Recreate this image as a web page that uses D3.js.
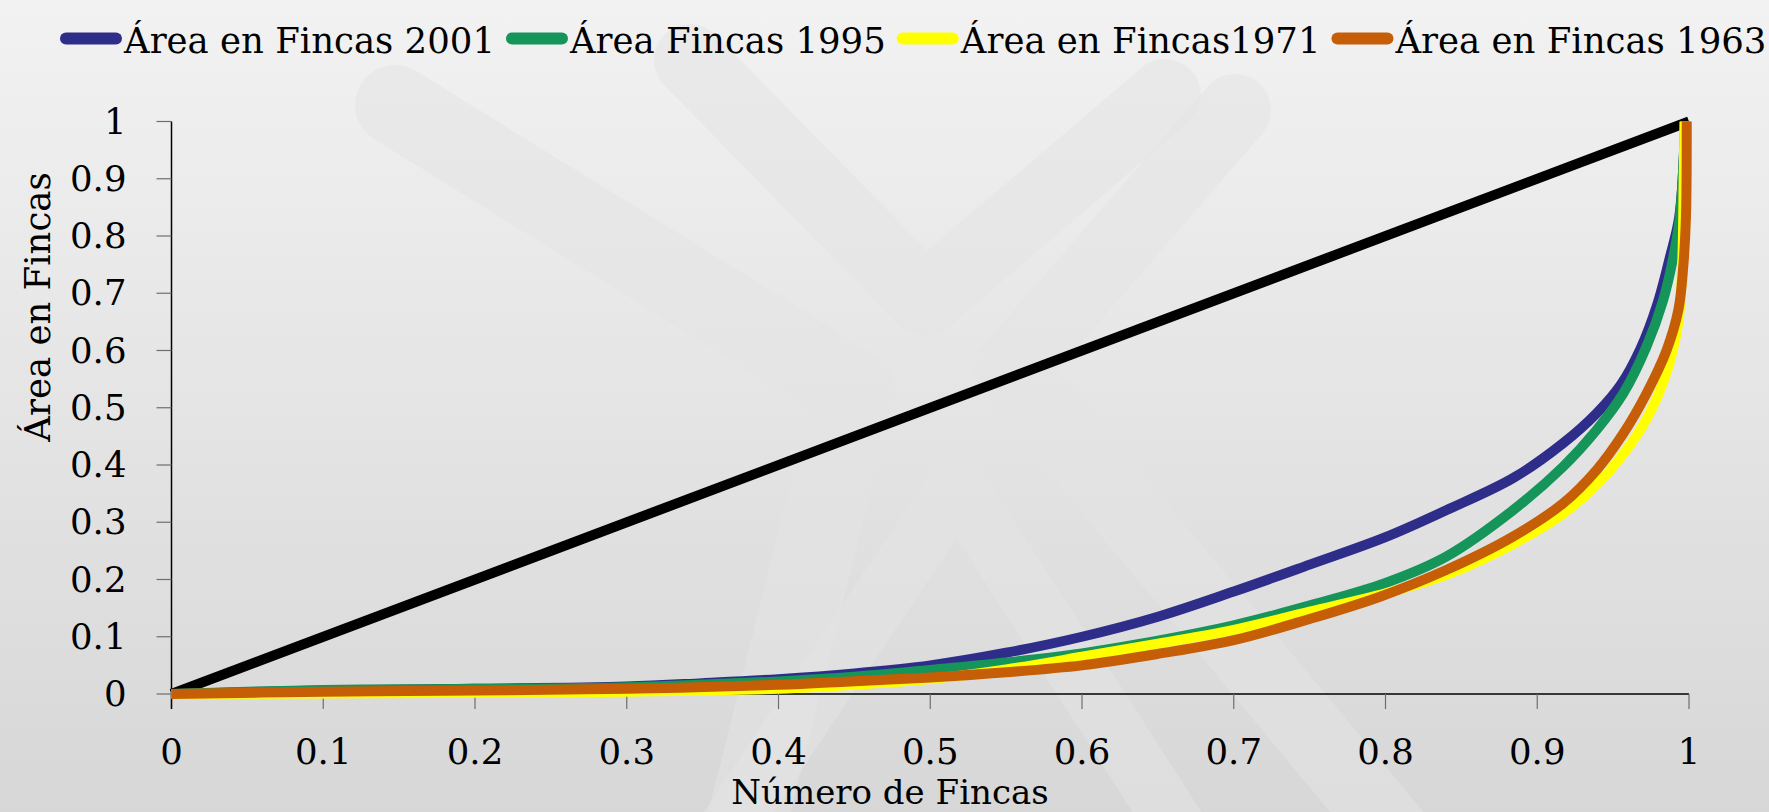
<!DOCTYPE html>
<html>
<head>
<meta charset="utf-8">
<script src="https://cdn.jsdelivr.net/npm/d3@7"></script>
<style>
  html, body { margin: 0; padding: 0; background: #e6e6e6; }
  svg { display: block; }
  text { font-family: "DejaVu Serif", "Liberation Serif", serif; fill: #000; }
</style>
</head>
<body>
<svg id="chart" width="1769" height="812"></svg>
<script>
// ---------------- DATA ----------------
const seriesNames = ["Área en Fincas 2001", "Área Fincas 1995", "Área en Fincas1971", "Área en Fincas 1963"];
const seriesColors = ["#2e2d8a", "#15955a", "#ffff00", "#c55e07"];

const x2001 = [0, 0.1, 0.2, 0.3, 0.35, 0.4, 0.45, 0.5, 0.55, 0.6, 0.65, 0.7, 0.75, 0.8, 0.84, 0.884, 0.917, 0.939, 0.955, 0.968, 0.979, 0.9875, 0.9936, 0.9975];
const y2001 = [0, 0.006, 0.009, 0.013, 0.019, 0.026, 0.036, 0.05, 0.072, 0.1, 0.135, 0.179, 0.226, 0.274, 0.321, 0.377, 0.438, 0.49, 0.54, 0.603, 0.68, 0.764, 0.834, 1];

const x1995 = [0, 0.1, 0.2, 0.3, 0.4, 0.45, 0.5, 0.55, 0.6, 0.635, 0.7, 0.752, 0.8, 0.84, 0.884, 0.917, 0.939, 0.9567, 0.972, 0.983, 0.9897, 0.994, 0.9975];
const y1995 = [0, 0.007, 0.009, 0.012, 0.022, 0.03, 0.042, 0.055, 0.071, 0.086, 0.12, 0.156, 0.194, 0.24, 0.321, 0.397, 0.461, 0.525, 0.607, 0.688, 0.764, 0.834, 1];

const x1971 = [0, 0.1, 0.2, 0.3, 0.4, 0.45, 0.5, 0.55, 0.6, 0.65, 0.7, 0.75, 0.8, 0.84, 0.884, 0.917, 0.939, 0.957, 0.972, 0.985, 0.993, 0.9955, 0.9965, 0.997];
const y1971 = [0, 0.001, 0.002, 0.004, 0.009, 0.016, 0.026, 0.043, 0.065, 0.088, 0.112, 0.144, 0.176, 0.208, 0.262, 0.315, 0.365, 0.42, 0.48, 0.56, 0.65, 0.75, 0.9, 1];

const x1963 = [0, 0.1, 0.2, 0.3, 0.4, 0.447, 0.5, 0.55, 0.6, 0.65, 0.7, 0.75, 0.7964, 0.84, 0.884, 0.917, 0.939, 0.9567, 0.972, 0.9853, 0.993, 0.9962, 0.998, 0.9985];
const y1963 = [0, 0.004, 0.006, 0.009, 0.016, 0.022, 0.029, 0.038, 0.05, 0.07, 0.094, 0.131, 0.17, 0.2166, 0.275, 0.333, 0.391, 0.455, 0.525, 0.601, 0.671, 0.746, 0.834, 1];

const xEquality = [0, 1];
const yEquality = [0, 1];

const xTickValues = [0, 0.1, 0.2, 0.3, 0.4, 0.5, 0.6, 0.7, 0.8, 0.9, 1];
const yTickValues = [0, 0.1, 0.2, 0.3, 0.4, 0.5, 0.6, 0.7, 0.8, 0.9, 1];
const xTitle = "Número de Fincas";
const yTitle = "Área en Fincas";

// ---------------- LAYOUT ----------------
const W = 1769, H = 812;
const svg = d3.select("#chart");
const FS = 35.5;

const x = d3.scaleLinear().domain([0, 1]).range([171.5, 1689]);
const y = d3.scaleLinear().domain([0, 1]).range([694, 121.5]);

// background gradient
const defs = svg.append("defs");
const grad = defs.append("linearGradient").attr("id", "bg").attr("x1", 0).attr("y1", 0).attr("x2", 0).attr("y2", 1);
grad.append("stop").attr("offset", "0%").attr("stop-color", "#f2f2f2");
grad.append("stop").attr("offset", "100%").attr("stop-color", "#d7d7d7");
svg.append("rect").attr("width", W).attr("height", H).attr("fill", "url(#bg)");

// watermark (decorative)
const wm = svg.append("g").attr("fill", "none").attr("stroke", "#e3e3e3")
  .attr("stroke-opacity", 0.55).attr("stroke-linecap", "round").attr("stroke-linejoin", "round");
const wmPaths = [
  {pts: [[395, 105], [855, 390], [745, 830]], w: 80},
  {pts: [[690, 60], [925, 300], [1165, 95]], w: 72},
  {pts: [[1235, 110], [1010, 370], [1400, 840]], w: 72},
  {pts: [[720, 840], [957, 485], [1185, 840]], w: 58}
];
wmPaths.forEach(p => wm.append("path").attr("d", d3.line()(p.pts)).attr("stroke-width", p.w));

// axes
const gx = svg.append("g").attr("transform", `translate(0,${y(0)})`);
gx.append("line").attr("x1", x(0)).attr("x2", x(1)).attr("y1", 0).attr("y2", 0)
  .attr("stroke", "#000").attr("stroke-width", 1.5);
gx.selectAll("line.tick").data(xTickValues).join("line").attr("class", "tick")
  .attr("x1", d => x(d)).attr("x2", d => x(d)).attr("y1", 0).attr("y2", 15)
  .attr("stroke", "#6e6e6e").attr("stroke-width", 1.2);
gx.selectAll("text").data(xTickValues).join("text")
  .attr("x", d => x(d)).attr("y", 70).attr("text-anchor", "middle")
  .attr("font-size", FS).text(d => String(+d.toFixed(1)));

const gy = svg.append("g").attr("transform", `translate(${x(0)},0)`);
gy.append("line").attr("x1", 0).attr("x2", 0).attr("y1", y(1)).attr("y2", y(0) + 15)
  .attr("stroke", "#000").attr("stroke-width", 1.5);
gy.selectAll("line.tick").data(yTickValues).join("line").attr("class", "tick")
  .attr("x1", -15).attr("x2", 0).attr("y1", d => y(d)).attr("y2", d => y(d))
  .attr("stroke", "#6e6e6e").attr("stroke-width", 1.2);
gy.selectAll("text").data(yTickValues).join("text")
  .attr("x", -45).attr("y", d => y(d) + 12).attr("text-anchor", "end")
  .attr("font-size", FS).text(d => String(+d.toFixed(1)));

// titles
svg.append("text").attr("x", 890).attr("y", 804).attr("text-anchor", "middle")
  .attr("font-size", 34).text(xTitle);
svg.append("text").attr("transform", "translate(50,307) rotate(-90)").attr("text-anchor", "middle")
  .attr("font-size", FS).text(yTitle);

// lines
const line = d3.line().x(d => x(d[0])).y(d => y(d[1])).curve(d3.curveCatmullRom.alpha(0.5));
const zip = (a, b) => a.map((v, i) => [v, b[i]]);

svg.append("path").attr("d", d3.line().x(d => x(d[0])).y(d => y(d[1]))(zip(xEquality, yEquality)))
  .attr("fill", "none").attr("stroke", "#000").attr("stroke-width", 10);

const allSeries = [zip(x2001, y2001), zip(x1995, y1995), zip(x1971, y1971), zip(x1963, y1963)];
allSeries.forEach((s, i) => {
  svg.append("path").attr("d", line(s)).attr("fill", "none")
    .attr("stroke", seriesColors[i]).attr("stroke-width", 10).attr("stroke-linejoin", "round");
});

// legend
const lg = svg.append("g");
let cx = 60;
seriesNames.forEach((name, i) => {
  lg.append("line").attr("x1", cx + 6).attr("x2", cx + 56).attr("y1", 38.5).attr("y2", 38.5)
    .attr("stroke", seriesColors[i]).attr("stroke-width", 12).attr("stroke-linecap", "round");
  const t = lg.append("text").attr("x", cx + 64).attr("y", 52.5).attr("font-size", FS).text(name);
  cx = cx + 64 + t.node().getComputedTextLength() + 11;
});
</script>
</body>
</html>
